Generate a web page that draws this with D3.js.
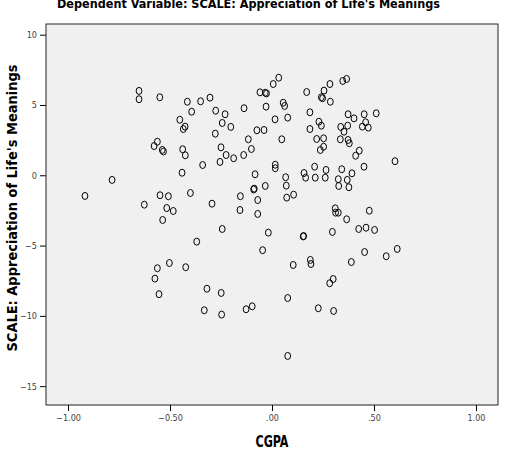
<!DOCTYPE html>
<html>
<head>
<meta charset="utf-8">
<script src="https://cdnjs.cloudflare.com/ajax/libs/d3/7.8.5/d3.min.js"></script>
<style>
  body { margin: 0; background: #fff; }
  svg { display: block; }
</style>
</head>
<body>
<div id="chart"></div>
<script>
// Values (CGPA residual vs. SCALE residual)
var cgpa = [
  -0.652, -0.652, -0.550, -0.415, -0.350, -0.304, -0.394, -0.452, -0.426, -0.435,
  -0.562, -0.578, -0.538, -0.532, -0.438, -0.425, -0.340, -0.441, -0.784,
  -0.276, -0.230, -0.244, -0.202, -0.278, -0.250, -0.225, -0.255, -0.188, -0.137,
  -0.059, -0.033, -0.027, 0.006, 0.033, -0.029, 0.055, 0.062, 0.077, 0.015,
  -0.074, -0.039, -0.116, -0.101, -0.139, 0.048, 0.170, 0.255, 0.284, 0.347,
  0.366, 0.242, 0.248, 0.286, 0.186, 0.230, 0.242, 0.186, 0.219, 0.253,
  0.253, 0.237, 0.373, 0.402, 0.337, 0.353, 0.371, 0.335, 0.373, 0.379,
  0.428, 0.410, 0.016, 0.016, -0.083, 0.067, -0.033, -0.087, -0.090, 0.070,
  0.157, 0.165, 0.209, 0.212, 0.265, 0.261, 0.342, 0.325, 0.327, 0.369,
  0.392, 0.377,
  0.452, 0.511, 0.459, 0.443, 0.472, 0.451, 0.603,
  -0.917, -0.549, -0.508, -0.400, -0.626, -0.516, -0.484, -0.536, -0.369, -0.562,
  -0.503, -0.423, -0.574, -0.554, -0.319, -0.332,
  -0.294, -0.155, -0.070, -0.157, -0.070, 0.072, 0.106, -0.244, -0.018, 0.155,
  0.153, -0.046, 0.104, 0.188, 0.191, 0.310, 0.312, 0.325, 0.366, 0.296,
  0.425, 0.389, 0.300, 0.283, -0.249, -0.247, -0.127, -0.097, 0.077, 0.227,
  0.302, 0.077,
  0.477, 0.461, 0.503, 0.454, 0.560, 0.614
];
var scale = [
  6.00, 5.41, 5.55, 5.23, 5.26, 5.52, 4.52, 3.95, 3.46, 3.29,
  2.39, 2.08, 1.80, 1.69, 1.85, 1.42, 0.73, 0.18, -0.33,
  4.59, 4.34, 3.72, 3.44, 2.96, 1.99, 1.44, 0.95, 1.21, 4.77,
  5.90, 5.87, 5.82, 6.49, 6.94, 4.88, 5.16, 4.93, 4.10, 3.98,
  3.20, 3.22, 2.56, 1.87, 1.44, 2.56, 5.92, 6.02, 6.49, 6.71,
  6.85, 5.55, 5.48, 5.23, 4.48, 3.81, 3.53, 3.29, 2.58, 2.63,
  2.03, 1.80, 4.34, 4.05, 3.44, 3.10, 3.53, 2.56, 2.51, 2.28,
  1.75, 1.39, 0.75, 0.50, 0.07, -0.14, -0.76, -0.95, -1.01, -0.74,
  0.16, -0.17, 0.61, -0.17, 0.38, -0.17, 0.43, -0.28, -0.76, -0.33,
  0.14, -0.85,
  4.34, 4.41, 3.77, 3.46, 3.39, 0.61, 1.00,
  -1.47, -1.42, -1.49, -1.26, -2.09, -2.33, -2.54, -3.18, -4.72, -6.61,
  -6.24, -6.54, -7.35, -8.46, -8.07, -9.60,
  -2.02, -1.49, -1.76, -2.47, -2.75, -1.59, -1.38, -3.82, -4.08, -4.32,
  -4.35, -5.33, -6.38, -6.02, -6.31, -2.35, -2.66, -2.66, -3.13, -4.03,
  -3.82, -6.17, -7.38, -7.68, -8.37, -9.91, -9.53, -9.32, -8.73, -9.46,
  -9.65, -12.85,
  -2.52, -3.73, -3.89, -5.46, -5.76, -5.24
];
var xTicks = [-1, -0.5, 0, 0.5, 1];
var yTicks = [-15, -10, -5, 0, 5, 10];

var titleText = "Dependent Variable: SCALE: Appreciation of Life's Meanings";
var xLabel = "CGPA";
var yLabel = "SCALE: Appreciation of Life's Meanings";

var svgWidth = 508;
var svgHeight = 452;
var plot = { left: 46, right: 498, top: 24, bottom: 405 };
var labelFont = "'Liberation Sans Narrow', 'Arial Narrow', 'DejaVu Sans Condensed', sans-serif";

var svg = d3.select("#chart")
    .append("svg")
    .attr("width", svgWidth)
    .attr("height", svgHeight);

var x = d3.scaleLinear()
    .domain([-1.108, 1.108])
    .range([plot.left, plot.right]);

var y = d3.scaleLinear()
    .domain([-16.34, 10.76])
    .range([plot.bottom, plot.top]);

// Plot background
svg.append("rect")
    .attr("x", plot.left)
    .attr("y", plot.top)
    .attr("width", plot.right - plot.left)
    .attr("height", plot.bottom - plot.top)
    .attr("fill", "#f0f0f0");

// Axes
function spssFormat(d) {
    return d3.format(".2f")(d).replace(/^(-?)0\./, "$1.");
}

var xAxis = svg.append("g")
    .attr("transform", "translate(0," + plot.bottom + ")")
    .call(d3.axisBottom(x).tickValues(xTicks).tickSize(6).tickPadding(4).tickFormat(spssFormat));

var yAxis = svg.append("g")
    .attr("transform", "translate(" + plot.left + ",0)")
    .call(d3.axisLeft(y).tickValues(yTicks).tickSize(6).tickPadding(3).tickFormat(d3.format("d")));

[xAxis, yAxis].forEach(function(g) {
    g.select(".domain").remove();
    g.selectAll(".tick line").attr("stroke", "#000");
    g.selectAll(".tick text")
        .attr("fill", "#444")
        .style("font-family", "'DejaVu Sans Condensed', 'Liberation Sans Narrow', sans-serif")
        .style("font-size", "9px");
});

// Points
svg.append("g")
    .selectAll("ellipse")
    .data(cgpa.map(function(d, i) { return { x: d, y: scale[i] }; }))
    .join("ellipse")
    .attr("cx", function(d) { return x(d.x); })
    .attr("cy", function(d) { return y(d.y); })
    .attr("rx", 2.9)
    .attr("ry", 3.5)
    .attr("fill", "none")
    .attr("stroke", "#000")
    .attr("stroke-width", 1);

// Frame
svg.append("rect")
    .attr("x", plot.left)
    .attr("y", plot.top)
    .attr("width", plot.right - plot.left)
    .attr("height", plot.bottom - plot.top)
    .attr("fill", "none")
    .attr("stroke", "#222")
    .attr("stroke-width", 1);

// Title (sits against the top edge like the reference)
svg.append("text")
    .attr("x", 57)
    .attr("y", 8)
    .attr("textLength", 383)
    .attr("lengthAdjust", "spacingAndGlyphs")
    .style("font-family", labelFont)
    .style("font-size", "13px")
    .style("font-weight", "bold")
    .attr("fill", "#000")
    .text(titleText);

svg.append("text")
    .attr("x", 272)
    .attr("y", 447)
    .attr("text-anchor", "middle")
    .attr("textLength", 33)
    .attr("lengthAdjust", "spacingAndGlyphs")
    .style("font-family", labelFont)
    .style("font-size", "15px")
    .style("font-weight", "bold")
    .text(xLabel);

svg.append("text")
    .attr("transform", "translate(17,208) rotate(-90)")
    .attr("text-anchor", "middle")
    .attr("textLength", 287)
    .attr("lengthAdjust", "spacingAndGlyphs")
    .style("font-family", labelFont)
    .style("font-size", "14px")
    .style("font-weight", "bold")
    .text(yLabel);
</script>
</body>
</html>
